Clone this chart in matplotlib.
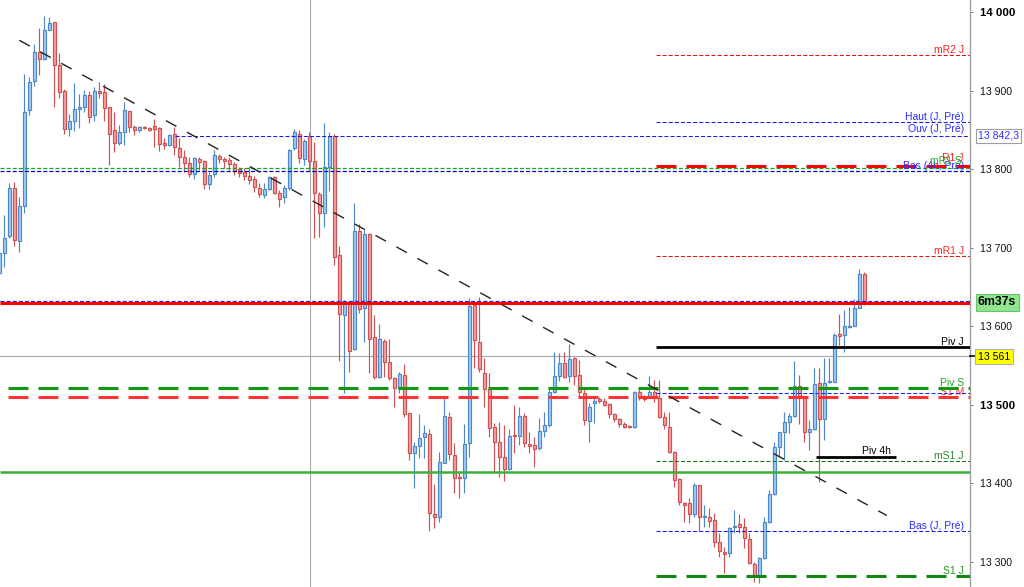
import matplotlib
matplotlib.use("Agg")
import matplotlib.pyplot as plt
import matplotlib.transforms as mtrans
import numpy as np

plt.rcParams['font.family'] = ['Liberation Sans', 'DejaVu Sans']
plt.rcParams['lines.scale_dashes'] = False

# ---- candles (5 min bars) ----
opens = [13668, 13693, 13715, 13776, 13708, 13753, 13875, 13912, 13949, 13940,
         13977, 13987, 13933, 13899, 13851, 13861, 13877, 13879, 13894, 13869,
         13899, 13898, 13879, 13850, 13833, 13847, 13874, 13854, 13850, 13854,
         13852, 13855, 13852, 13833, 13831, 13845, 13827, 13815, 13808, 13794,
         13813, 13810, 13781, 13794, 13817, 13813, 13812, 13806, 13800, 13796,
         13791, 13787, 13776, 13767, 13775, 13790, 13770, 13765, 13776, 13827,
         13845, 13813, 13842, 13810, 13768, 13744, 13803, 13842, 13691, 13614,
         13631, 13571, 13721, 13623, 13717, 13586, 13535, 13581, 13554, 13534,
         13521, 13538, 13490, 13439, 13448, 13459, 13463, 13361, 13357, 13426,
         13484, 13436, 13408, 13407, 13451, 13627, 13580, 13540, 13520, 13472,
         13453, 13434, 13418, 13461, 13460, 13486, 13450, 13449, 13445, 13467,
         13474, 13516, 13537, 13553, 13537, 13560, 13538, 13515, 13479, 13502,
         13507, 13505, 13501, 13488, 13482, 13476, 13473, 13472, 13516, 13510,
         13510, 13516, 13509, 13484, 13472, 13440, 13406, 13375, 13375, 13361,
         13398, 13357, 13357, 13353, 13325, 13313, 13311, 13344, 13348, 13344,
         13329, 13297, 13283, 13305, 13351, 13386, 13446, 13465, 13478, 13486,
         13524, 13509, 13465, 13469, 13528, 13482, 13529, 13529, 13590, 13589,
         13599, 13600, 13623, 13666]
highs = [13700, 13742, 13782, 13784, 13765, 13921, 13917, 13959, 13980, 13995,
         13994, 13987, 13948, 13902, 13870, 13910, 13896, 13901, 13899, 13905,
         13911, 13908, 13879, 13873, 13856, 13885, 13874, 13856, 13855, 13855,
         13854, 13864, 13854, 13840, 13845, 13854, 13840, 13824, 13815, 13815,
         13815, 13812, 13796, 13824, 13819, 13815, 13815, 13809, 13803, 13801,
         13803, 13791, 13782, 13782, 13791, 13791, 13773, 13780, 13826, 13851,
         13850, 13838, 13847, 13835, 13771, 13859, 13847, 13845, 13702, 13633,
         13632, 13757, 13730, 13722, 13719, 13614, 13603, 13584, 13584, 13535,
         13542, 13552, 13490, 13453, 13488, 13474, 13469, 13399, 13440, 13511,
         13491, 13451, 13413, 13476, 13636, 13631, 13637, 13560, 13540, 13477,
         13478, 13474, 13469, 13500, 13497, 13490, 13465, 13459, 13483, 13491,
         13523, 13567, 13566, 13567, 13577, 13561, 13557, 13523, 13502, 13509,
         13510, 13509, 13502, 13490, 13483, 13478, 13474, 13518, 13521, 13512,
         13537, 13532, 13532, 13491, 13491, 13441, 13407, 13376, 13381, 13400,
         13398, 13372, 13369, 13362, 13337, 13319, 13344, 13366, 13361, 13356,
         13337, 13300, 13306, 13357, 13392, 13453, 13465, 13491, 13490, 13556,
         13538, 13509, 13481, 13547, 13547, 13560, 13560, 13591, 13616, 13621,
         13624, 13635, 13673, 13669]
lows = [13666, 13675, 13712, 13702, 13694, 13744, 13869, 13906, 13920, 13939,
        13977, 13879, 13891, 13845, 13842, 13849, 13852, 13873, 13859, 13861,
        13891, 13861, 13805, 13822, 13831, 13831, 13847, 13843, 13847, 13851,
        13849, 13828, 13823, 13826, 13829, 13818, 13803, 13796, 13790, 13787,
        13799, 13775, 13775, 13790, 13808, 13801, 13799, 13793, 13790, 13786,
        13781, 13771, 13765, 13763, 13773, 13768, 13752, 13757, 13773, 13824,
        13808, 13805, 13799, 13712, 13714, 13726, 13772, 13678, 13556, 13515,
        13542, 13570, 13617, 13580, 13540, 13533, 13534, 13535, 13532, 13497,
        13515, 13484, 13430, 13394, 13432, 13432, 13339, 13343, 13351, 13426,
        13430, 13388, 13381, 13388, 13434, 13547, 13542, 13497, 13459, 13414,
        13408, 13403, 13417, 13439, 13449, 13446, 13439, 13421, 13442, 13459,
        13472, 13515, 13530, 13534, 13529, 13525, 13510, 13474, 13453, 13477,
        13502, 13498, 13483, 13478, 13472, 13470, 13470, 13470, 13506, 13505,
        13509, 13504, 13483, 13469, 13439, 13395, 13372, 13351, 13350, 13357,
        13339, 13344, 13344, 13319, 13306, 13286, 13306, 13337, 13337, 13318,
        13297, 13274, 13273, 13304, 13350, 13385, 13434, 13430, 13464, 13484,
        13476, 13453, 13442, 13468, 13402, 13455, 13528, 13529, 13576, 13567,
        13598, 13600, 13623, 13627]
closes = [13693, 13712, 13776, 13710, 13753, 13873, 13911, 13949, 13940, 13977,
          13986, 13933, 13898, 13851, 13861, 13877, 13879, 13894, 13866, 13899,
          13897, 13878, 13845, 13833, 13847, 13875, 13854, 13850, 13854, 13852,
          13850, 13851, 13832, 13831, 13843, 13828, 13815, 13808, 13794, 13814,
          13809, 13781, 13793, 13818, 13813, 13810, 13806, 13798, 13795, 13791,
          13786, 13777, 13768, 13775, 13790, 13770, 13762, 13776, 13824, 13847,
          13814, 13836, 13810, 13770, 13744, 13803, 13842, 13688, 13616, 13631,
          13568, 13721, 13622, 13717, 13584, 13535, 13584, 13554, 13534, 13521,
          13539, 13488, 13439, 13448, 13458, 13464, 13362, 13357, 13427, 13486,
          13437, 13407, 13407, 13450, 13626, 13582, 13546, 13520, 13470, 13453,
          13434, 13418, 13460, 13460, 13486, 13451, 13448, 13444, 13467, 13474,
          13516, 13537, 13553, 13535, 13558, 13537, 13516, 13481, 13497, 13505,
          13505, 13500, 13488, 13482, 13476, 13472, 13472, 13516, 13510, 13507,
          13516, 13509, 13484, 13474, 13440, 13404, 13376, 13372, 13361, 13398,
          13357, 13358, 13352, 13325, 13314, 13310, 13343, 13346, 13344, 13330,
          13299, 13283, 13305, 13351, 13386, 13446, 13465, 13478, 13486, 13524,
          13509, 13465, 13469, 13527, 13482, 13528, 13530, 13589, 13588, 13600,
          13600, 13623, 13666, 13631]

# ---- levels ----
day_start = 131.3          # bar where the day levels begin
mR2_J = 13945.3
haut_J_pre = 13860.0
ouv_J_pre = 13842.3
R1_J = 13804.4
mR1_S = 13801.0
bas_4h_pre = 13797.6
mR1_J = 13689.4
blue_last = 13631.5
red_last = 13629.0
piv_J = 13573.6
cross_price = 13562.0
cross_bar = 62.1
piv_S = 13521.8
S1_M_blue = 13515.5
S1_M = 13509.3
piv_4h = 13434.0
piv_4h_bars = (163.3, 179.3)
mS1_J = 13428.0
green_solid = 13415.0
bas_J_pre = 13339.0
S1_J = 13282.5
trend_x = [4.0, 177.5]
trend_y = [13964, 13359]

yticks = [13300, 13400, 13500, 13600, 13700, 13800, 13900, 14000]

XMIN, XMAX = 0.14, 194.14
YMIN, YMAX = 13268.0, 14015.3

fig = plt.figure(figsize=(10.24, 5.87), dpi=100)
ax = fig.add_axes([0, 0, 970 / 1024, 1])
ax.set_xlim(XMIN, XMAX)
ax.set_ylim(YMIN, YMAX)

x = np.arange(len(opens))
o = np.array(opens, float)
c = np.array(closes, float)
h = np.array(highs, float)
l = np.array(lows, float)
up = c >= o
fill = np.where(up, '#9fcdf3', '#f5a0a0')
edge = np.where(up, '#4f87c7', '#cc5353')

ax.vlines(x, l, h, colors=edge, linewidth=0.85, zorder=1.5)
ax.bar(x, np.maximum(np.abs(c - o), 0.8), bottom=np.minimum(o, c), width=0.7,
       color=fill, edgecolor=edge, linewidth=0.85, zorder=2)

fine = (0, (2.9, 1.5))
thick = (0, (14.4, 7.2))


def level(y, x0, color, lw, style='-', x1=XMAX):
    ax.hlines(y, x0, x1, colors=color, linewidth=lw, linestyles=style, zorder=3)


# crosshair
ax.axvline(cross_bar, color='#a8a8a8', lw=0.8, zorder=1)
ax.axhline(cross_price, color='#a8a8a8', lw=0.8, zorder=1)

level(mR2_J, day_start, '#ee1111', 0.75, fine)
level(haut_J_pre, day_start, '#1a1aee', 0.75, fine)
level(ouv_J_pre, 35.1, '#1a1aee', 0.75, fine)
level(R1_J, day_start, '#ff0000', 2.2, thick)
level(mR1_S, XMIN, '#11aa11', 0.9, fine)
level(bas_4h_pre, XMIN, '#0000cc', 0.9, fine)
level(mR1_J, day_start, '#ee1111', 0.75, fine)
level(blue_last, XMIN, '#2222ff', 0.9, fine)
level(red_last, XMIN, '#ff0000', 2.2)
level(piv_J, day_start, '#000000', 2.0)
level(piv_S, 1.74, '#119911', 2.2, thick)
level(S1_M_blue, day_start, '#2222ff', 0.75, fine)
level(S1_M, 1.74, '#ff3333', 2.2, thick)
level(piv_4h, piv_4h_bars[0], '#000000', 2.0, '-', piv_4h_bars[1])
level(mS1_J, day_start, '#117711', 0.75, fine)
level(green_solid, XMIN, '#3cb03c', 1.8)
level(bas_J_pre, day_start, '#1a1aee', 0.75, fine)
level(S1_J, day_start, '#118811', 2.2, thick)

ax.plot(trend_x, trend_y, color='#222222', lw=1.0, dashes=(8.6, 8.6), zorder=3.5)

# level labels
lab_x = 192.94
fs = 7.5
d = 2.6
labels = [
    (mR2_J + d, 'mR2 J', '#ff2020'),
    (haut_J_pre + d, 'Haut (J, Pré)', '#2a2aff'),
    (ouv_J_pre + 4.5, 'Ouv (J, Pré)', '#2a2aff'),
    (mR1_J + d, 'mR1 J', '#ff2020'),
    (piv_J + d, 'Piv J', '#000000'),
    (piv_S + d, 'Piv S', '#22aa22'),
    (mS1_J + d, 'mS1 J', '#2e8b2e'),
    (bas_J_pre + d, 'Bas (J, Pré)', '#2a2aff'),
    (S1_J + d, 'S1 J', '#229922'),
]
for y, s, col in labels:
    ax.text(lab_x, y, s, color=col, fontsize=fs, ha='right', va='baseline', zorder=5)
ax.text(lab_x, S1_M + 3.0, 'S1 M', color='#ff3333', fontsize=fs, ha='right',
        va='baseline', zorder=2.5)
# labels that sit on top of one another in the original
ax.text(lab_x, bas_4h_pre + 2.0, 'Bas (4h, Pré)', color='#2a2aff', fontsize=fs,
        ha='right', va='baseline', zorder=5)
ax.text(lab_x - 0.4, mR1_S + 5.0, 'mR1 S', color='#22aa22', fontsize=fs,
        ha='right', va='baseline', zorder=5)
ax.text(lab_x, R1_J + 6.0, 'R1 J', color='#ff2020', fontsize=fs,
        ha='right', va='baseline', zorder=5)
ax.text(172.5, piv_4h + 3.4, 'Piv 4h', color='#000000', fontsize=fs,
        ha='left', va='baseline', zorder=5)

# right axis
for s in ['left', 'top', 'bottom']:
    ax.spines[s].set_visible(False)
ax.spines['right'].set_color('#a0a0a0')
ax.spines['right'].set_linewidth(1.0)
ax.set_xticks([])
ax.yaxis.tick_right()
ax.set_yticks(yticks)
ax.set_yticklabels([f"{v:,}".replace(',', ' ') for v in yticks])
ax.tick_params(axis='y', direction='out', length=2.5, width=0.8, color='#808080',
               pad=4.5, labelsize=7.6, labelcolor='#111111')
for t in ax.get_yticklabels():
    if t.get_text() in ('14 000', '13 500'):
        t.set_fontweight('bold')
        t.set_fontsize(8.2)
        t.set_color('#000000')

bt = mtrans.blended_transform_factory(ax.transAxes, ax.transData)
bx = 978 / 970
ax.text(bx, ouv_J_pre, '13 842,3', transform=bt, color='#3030ff', fontsize=7.6,
        ha='left', va='center', clip_on=False, zorder=6,
        bbox=dict(boxstyle='square,pad=0.22', fc='white', ec='#a0a0a0', lw=0.8))
ax.text(bx, red_last + 1.5, '6m37s', transform=bt, color='#000000', fontsize=8.8,
        fontweight='bold', ha='left', va='center', clip_on=False, zorder=6,
        bbox=dict(boxstyle='square,pad=0.2', fc='#8fe68f', ec='#6cc06c', lw=0.8))
ax.text(bx, cross_price - 1.0, '13 561', transform=bt, color='#000000', fontsize=7.6,
        ha='left', va='center', clip_on=False, zorder=6,
        bbox=dict(boxstyle='square,pad=0.25', fc='#ffff00', ec='#b0b0b0', lw=0.8))
ax.plot([1.0, 1.004], [cross_price, cross_price], transform=bt, color='#000000',
        lw=1.2, clip_on=False, zorder=6)

fig.savefig('out.png', dpi=100)
